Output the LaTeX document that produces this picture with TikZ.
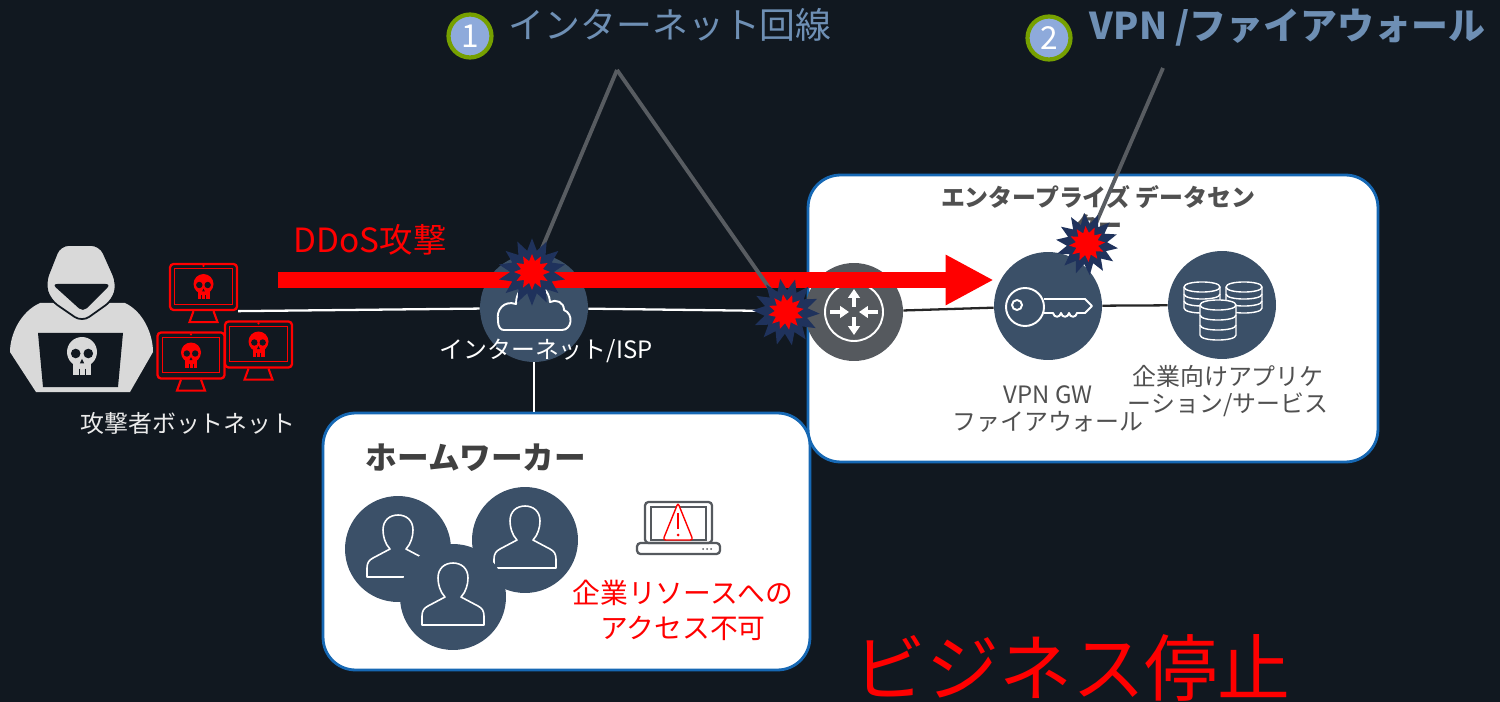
\documentclass[tikz,border=0pt]{standalone}
\usepackage{fontspec}
\setmainfont{Noto Sans CJK JP}
\usetikzlibrary{positioning,shapes.geometric,arrows.meta}

\definecolor{night}{RGB}{17,24,32}
\definecolor{slate}{RGB}{59,80,104}
\definecolor{steel}{RGB}{85,89,94}
\definecolor{panelblue}{RGB}{22,104,180}
\definecolor{ink}{RGB}{80,80,80}
\definecolor{navyburst}{RGB}{31,50,92}
\definecolor{calloutblue}{RGB}{110,143,180}
\definecolor{numfill}{RGB}{142,170,219}
\definecolor{numring}{RGB}{118,160,0}
\definecolor{hoodgray}{RGB}{217,217,217}
\definecolor{pointer}{RGB}{88,92,97}

\pgfdeclarelayer{bg}
\pgfdeclarelayer{links}
\pgfsetlayers{bg,links,main}

\tikzset{
    hub/.style={circle, fill=slate, minimum size=2.16cm, inner sep=0pt},
    panel/.style={draw=panelblue, line width=1.6pt, fill=white, rounded corners=0.65cm},
    badge/.style={circle, fill=numfill, draw=numring, line width=2.4pt, minimum size=0.86cm,
        inner sep=0pt, text=white, font=\fontsize{18}{18}\selectfont},
    calltext/.style={text=calloutblue, inner sep=0pt, font=\fontsize{20.4}{22}\selectfont},
    monitor/.style={draw=red, line width=1.3pt, rounded corners=2pt, minimum width=1.34cm,
        minimum height=0.92cm, inner sep=0pt},
    burst/.style={star, star points=14, star point ratio=1.55, fill=navyburst, inner sep=0pt},
    burstcore/.style={star, star points=12, star point ratio=1.6, fill=red, inner sep=0pt,
        minimum size=0.72cm},
    icon/.style={draw=white, line width=1.1pt},
    link/.style={white, line width=1.3pt},
    dclink/.style={black!85, line width=1.3pt},
    lead/.style={pointer, line width=2.2pt},
    lbl/.style={font=\fontsize{13.6}{15.3}\selectfont, align=center, inner sep=0pt},
}

% small skull, head radius 10 around the origin
\newcommand{\skullmark}[2]{%
    \fill[#1] (0,0) circle[radius=10];
    \fill[#1] (-6,6) rectangle (6,15);
    \fill[#2] (-4.2,1) circle[radius=3.2] (4.2,1) circle[radius=3.2];
    \fill[#2] (0,4.5) -- (-1.4,7.5) -- (1.4,7.5) -- cycle;
    \draw[#2, line width=0.5pt] (-2,11) -- (-2,15) (2,11) -- (2,15);
}

\begin{document}
\begin{tikzpicture}[x=0.02cm, y=-0.02cm]
    \useasboundingbox (0,0) rectangle (1500,702);

    % backdrop and the two white panels
    \begin{pgfonlayer}{bg}
        \fill[night] (0,0) rectangle (1500,702);
        \node[panel, minimum width=11.4cm, minimum height=5.74cm] (dc) at (1093,318.5) {};
        \node[panel, minimum width=9.74cm, minimum height=5.14cm] (home) at (566.5,541.5) {};
    \end{pgfonlayer}

    % hooded attacker
    \fill[hoodgray] (40,303) .. controls (20,312) and (10,335) .. (10,352) -- (36,392) -- (130,392)
        -- (153,352) .. controls (153,335) and (144,312) .. (125,303) -- cycle;
    \filldraw[fill=hoodgray, draw=night, line width=1pt, rounded corners=5pt] (60,245) -- (100,245)
        -- (117,283) -- (113,300) -- (82,322) -- (50,300) -- (45,283) -- cycle;
    \fill[night, rounded corners=3pt] (52,284) -- (111,284) -- (83,312) -- cycle;
    \fill[night] (38,333) -- (123,333) -- (118,387) -- (43,387) -- cycle;
    \begin{scope}[shift={(82,352)}, scale=1.5]
        \skullmark{hoodgray}{night}
    \end{scope}

    % infected bots
    \foreach \n/\x/\y in {1/203.5/287, 2/191/355.5, 3/258.5/344.5}
    {
        \node[monitor] (bot\n) at (\x,\y) {};
        \draw[red, line width=0.6pt] ([shift={(6,6)}]bot\n.north west) rectangle ([shift={(-6,-7)}]bot\n.south east);
        \draw[red, line width=1.2pt] ([shift={(-10,0)}]bot\n.south) -- ([shift={(-14,11)}]bot\n.south)
            -- ([shift={(14,11)}]bot\n.south) -- ([shift={(10,0)}]bot\n.south);
        \fill[red] ([shift={(0,3)}]bot\n.north) circle[radius=1.2];
        \begin{scope}[shift={(\x,\y-3)}]
            \skullmark{red}{night}
        \end{scope}
    }

    % hubs
    \node[hub] (isp) at (534,308) {};
    \node[hub, fill=steel, minimum size=1.96cm] (rtr) at (854,312) {};
    \node[hub] (vpn) at (1048,306) {};
    \node[hub] (apps) at (1222,305) {};

    % cloud
    \begin{scope}[shift={(isp)}]
        \draw[icon, line join=round] (-30,22) -- (28,22) .. controls (38,22) and (40,6) .. (30,2)
            .. controls (30,-6) and (22,-9) .. (16,-6) .. controls (14,-30) and (-18,-30) .. (-18,-4)
            .. controls (-30,-8) and (-38,2) .. (-36,12) .. controls (-36,20) and (-33,22) .. (-30,22) -- cycle;
    \end{scope}

    % router
    \begin{scope}[shift={(rtr)}]
        \draw[icon] (0,0) circle[radius=29];
        \foreach \ax/\ay/\bx/\by in {0/-5/0/-23, 0/5/0/23, -24/0/-5/0, 24/0/5/0}
            \draw[icon, line width=1.8pt, -{Triangle[length=5pt, width=6.5pt]}] (\ax,\ay) -- (\bx,\by);
    \end{scope}

    % key
    \begin{scope}[shift={(vpn)}]
        \draw[icon] (-23,1) circle[radius=19];
        \draw[icon] (-31,-1) circle[radius=5];
        \draw[icon, line join=round] (-4,-7) -- (37,-7) -- (44,0) -- (37,7) -- (29,7)
            .. controls (28,12) and (22,12) .. (21,7) .. controls (20,12) and (14,12) .. (13,7)
            .. controls (12,12) and (6,12) .. (5,7) -- (-4,7);
    \end{scope}

    % databases
    \begin{scope}[shift={(apps)}]
        \foreach \cx/\ct/\cb in {-20/-18/3, 22/-18/3, -4/0/30}
        {
            \pgfmathsetmacro\bandA{\ct+(\cb-\ct)/3}
            \pgfmathsetmacro\bandB{\ct+2*(\cb-\ct)/3}
            \filldraw[icon, line width=0.8pt, fill=slate] (\cx-18,\ct) -- (\cx-18,\cb)
                .. controls (\cx-18,\cb+6.7) and (\cx+18,\cb+6.7) .. (\cx+18,\cb) -- (\cx+18,\ct)
                .. controls (\cx+18,\ct-6.7) and (\cx-18,\ct-6.7) .. cycle;
            \draw[icon, line width=0.8pt] (\cx-18,\ct) .. controls (\cx-18,\ct+6.7) and (\cx+18,\ct+6.7) .. (\cx+18,\ct);
            \draw[icon, line width=0.8pt] (\cx-18,\bandA) .. controls (\cx-18,\bandA+6.7) and (\cx+18,\bandA+6.7) .. (\cx+18,\bandA);
            \draw[icon, line width=0.8pt] (\cx-18,\bandB) .. controls (\cx-18,\bandB+6.7) and (\cx+18,\bandB+6.7) .. (\cx+18,\bandB);
        }
    \end{scope}

    % home workers
    \foreach \n/\x/\y in {1/398/549, 2/525/540, 3/453/597}
    {
        \node[hub, minimum size=2.12cm] (worker\n) at (\x,\y) {};
        \begin{scope}[shift={(worker\n)}]
            \draw[icon, line width=0.9pt, line join=round] (-8,0) .. controls (-13,-5) and (-15,-13) .. (-15,-19)
                .. controls (-15,-29) and (-8,-34) .. (0,-34) .. controls (8,-34) and (15,-29) .. (15,-19)
                .. controls (15,-13) and (13,-5) .. (8,0) -- (25,9) .. controls (29,11) and (31,14) .. (31,19)
                -- (31,28) -- (-31,28) -- (-31,19) .. controls (-31,14) and (-29,11) .. (-25,9) -- cycle;
        \end{scope}
    }

    % laptop with warning
    \draw[steel, line width=1.3pt, rounded corners=2pt] (645,502) rectangle (712,543);
    \draw[steel, line width=0.6pt] (651,507) rectangle (706,540);
    \draw[steel, line width=1.3pt, rounded corners=2pt] (637,543) rectangle (720,554);
    \fill[steel] (703,549) circle[radius=1] (707,549) circle[radius=1] (711,549) circle[radius=1];
    \draw[red, line width=0.8pt, rounded corners=1.5pt, fill=white] (678,503) -- (693,540) -- (663,540) -- cycle;
    \draw[red, line width=1.6pt] (678,513) -- (678,529);
    \fill[red] (678,535) circle[radius=1.5];

    % connectors
    \begin{pgfonlayer}{links}
        \draw[link] (bot1.south east) -- (isp);
        \draw[link] (isp) -- (rtr);
        \draw[link] (isp) -- (isp |- home.north);
        \draw[dclink] (rtr) -- (vpn) -- (apps);
    \end{pgfonlayer}

    % labels
    \node[lbl, text=black!8] (botlbl) at (188,423) {攻撃者ボットネット};
    \node[lbl, text=white] (isplbl) at (546,351) {インターネット/ISP};
    \node[lbl, text=ink] (vpnlbl) at (1048,409) {VPN GW\\ファイアウォール};
    \node[lbl, text=ink] (appslbl) at (1228,391) {企業向けアプリケ\\ーション/サービス};
    \node[lbl, text=ink, font=\bfseries\fontsize{13.6}{16}\selectfont] (dctitle) at (1098,211) {エンタープライズ データセン\\ター};
    \node[text=black!75, inner sep=0pt, font=\bfseries\fontsize{18}{20}\selectfont] (hometitle) at (476,458) {ホームワーカー};
    \node[text=red, align=center, inner sep=0pt, font=\fontsize{15.8}{19.8}\selectfont] (nolbl) at (683,610) {企業リソースへの\\アクセス不可};
    \node[text=red, inner sep=0pt, font=\fontsize{41.5}{42}\selectfont] (stop) at (1072,668) {ビジネス停止};

    % flood of traffic
    \node[text=red, inner sep=0pt, font=\fontsize{19}{19}\selectfont] (ddoslbl) at (370,240) {DDoS攻撃};
    \coordinate (ddos) at (278,280);
    \draw[red, line width=9.6pt, -{Triangle[length=0.96cm, width=0.94cm]}] (ddos) -- (ddos -| vpn.west);

    % weak points
    \node[badge] (no1) at (470,36) {1};
    \node[calltext, right=0.3cm of no1, yshift=0.22cm] (line1) {インターネット回線};
    \node[badge] (no2) at (1049,38) {2};
    \node[calltext, font=\bfseries\fontsize{21}{22}\selectfont, right=0.34cm of no2, yshift=0.2cm] (line2) {VPN /ファイアウォール};

    \coordinate (tipA) at (617,70);
    \coordinate (tipB) at (1163,68);
    \coordinate (hitisp) at (532,272);
    \coordinate (hitrtr) at (786,312);
    \coordinate (hitdc) at (1087,244);
    \draw[lead] (tipA) -- (hitisp);
    \draw[lead] (tipA) -- (hitrtr);
    \draw[lead] (tipB) -- (hitdc);

    \foreach \hit/\sz/\rot in {isp/1.35/0, rtr/1.35/10, dc/1.25/5}
    {
        \node[burst, minimum size=\sz cm, rotate=\rot] (boom\hit) at (hit\hit) {};
        \node[burstcore, rotate=\rot] (core\hit) at (hit\hit) {};
    }
\end{tikzpicture}
\end{document}
